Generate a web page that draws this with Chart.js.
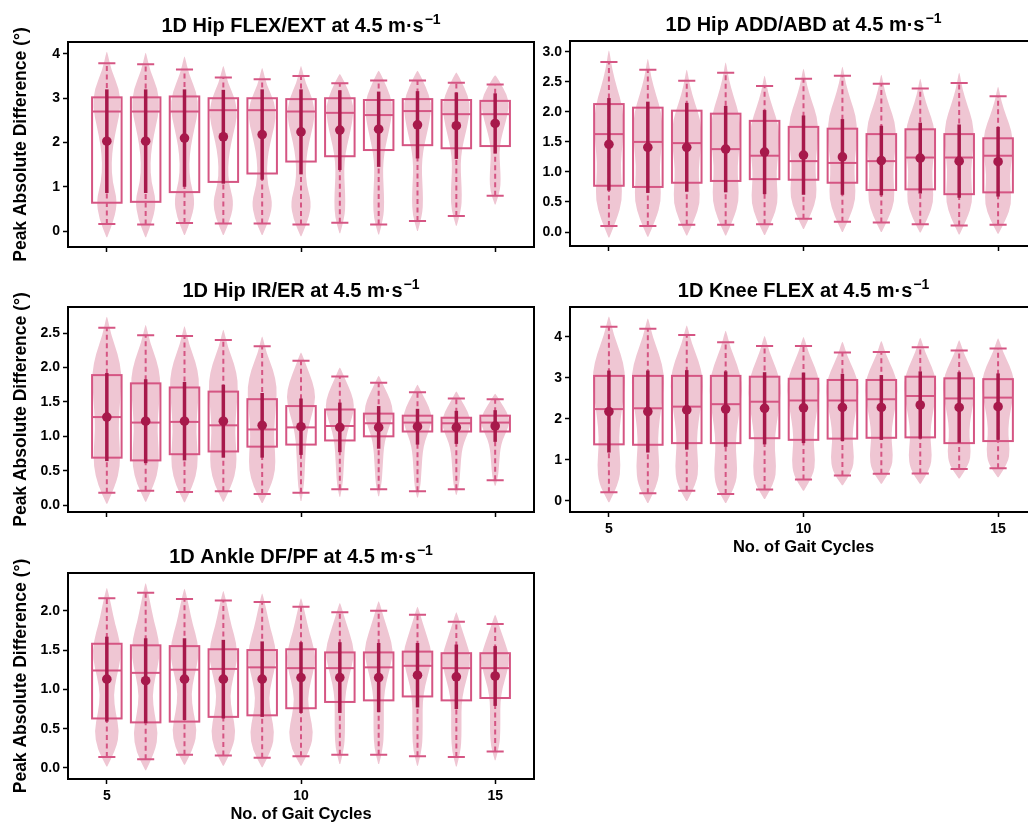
<!DOCTYPE html>
<html lang="en">
  <head>
    <meta charset="UTF-8" />
    <title>Gait cycles violins</title>
    <script src="https://cdn.jsdelivr.net/npm/chart.js"></script>
    <style>
      html, body { margin: 0; padding: 0; background: #fff; overflow: hidden; }
      body { width: 1028px; height: 822px; position: relative; }
      canvas { position: absolute; }
    </style>
  </head>
  <body>
    <canvas id="c1"></canvas>
    <canvas id="c2"></canvas>
    <canvas id="c3"></canvas>
    <canvas id="c4"></canvas>
    <canvas id="c5"></canvas>

    <script>
      // ---- data ----
      const cycles = [5, 6, 7, 8, 9, 10, 11, 12, 13, 14, 15];
      const xTickValues = [5, 10, 15];

      // 1D Hip FLEX/EXT
      const flexMean = [2.03, 2.03, 2.10, 2.13, 2.18, 2.24, 2.28, 2.30, 2.40, 2.38, 2.43];
      const flexSd = [1.17, 1.17, 1.10, 1.06, 1.02, 0.96, 0.90, 0.85, 0.76, 0.75, 0.68];
      const flexCapHi = [3.79, 3.77, 3.65, 3.47, 3.43, 3.50, 3.34, 3.40, 3.40, 3.35, 3.31];
      const flexCapLo = [0.16, 0.15, 0.18, 0.17, 0.17, 0.15, 0.19, 0.15, 0.23, 0.34, 0.80];
      const flexQ3 = [3.02, 3.02, 3.04, 3.00, 3.00, 2.98, 3.00, 2.96, 2.98, 2.96, 2.94];
      const flexMedian = [2.70, 2.70, 2.70, 2.73, 2.73, 2.70, 2.67, 2.62, 2.71, 2.64, 2.64];
      const flexQ1 = [0.64, 0.66, 0.88, 1.11, 1.30, 1.57, 1.69, 1.83, 1.94, 1.87, 1.92];
      const flexVioHi = [4.05, 4.03, 3.94, 3.73, 3.68, 3.73, 3.55, 3.62, 3.62, 3.58, 3.52];
      const flexVioLo = [-0.14, -0.14, -0.09, -0.09, -0.09, -0.12, -0.05, -0.08, 0.0, 0.12, 0.6];
      const flexShapes = [
        [0.03, 0.55, 0.75, 0.4, 0.33, 0.45, 0.72, 1.0, 0.88, 0.32, 0.03],
        [0.03, 0.35, 0.4, 0.35, 0.3, 0.4, 0.65, 0.9, 1.0, 0.6, 0.04],
      ];
      const flexShapeOf = [0, 0, 0, 0, 0, 0, 1, 1, 1, 1, 1];
      const flexTicks = [0, 1, 2, 3, 4];

      // 1D Hip ADD/ABD
      const addMean = [1.46, 1.41, 1.41, 1.38, 1.33, 1.28, 1.25, 1.19, 1.23, 1.18, 1.17];
      const addSd = [0.77, 0.76, 0.74, 0.72, 0.70, 0.66, 0.63, 0.58, 0.59, 0.61, 0.58];
      const addCapHi = [2.83, 2.70, 2.52, 2.65, 2.43, 2.55, 2.60, 2.47, 2.39, 2.48, 2.26];
      const addCapLo = [0.10, 0.10, 0.12, 0.12, 0.13, 0.22, 0.17, 0.16, 0.13, 0.11, 0.12];
      const addQ3 = [2.13, 2.07, 2.02, 1.97, 1.85, 1.75, 1.72, 1.63, 1.71, 1.63, 1.56];
      const addMedian = [1.63, 1.50, 1.48, 1.38, 1.27, 1.18, 1.15, 1.18, 1.24, 1.24, 1.27];
      const addQ1 = [0.77, 0.75, 0.82, 0.85, 0.88, 0.87, 0.82, 0.70, 0.71, 0.63, 0.66];
      const addVioHi = [3.02, 2.88, 2.70, 2.82, 2.60, 2.72, 2.75, 2.62, 2.55, 2.65, 2.42];
      const addVioLo = [-0.09, -0.08, -0.06, -0.06, -0.05, 0.05, 0.0, 0.0, -0.01, -0.04, -0.03];
      const addShapes = [[0.03, 0.55, 0.9, 0.85, 0.8, 0.92, 1.0, 0.92, 0.55, 0.22, 0.03]];
      const addShapeOf = [0, 0, 0, 0, 0, 0, 0, 0, 0, 0, 0];
      const addTicks = [0, 0.5, 1, 1.5, 2, 2.5, 3];

      // 1D Hip IR/ER
      const irMean = [1.28, 1.22, 1.22, 1.22, 1.16, 1.14, 1.13, 1.13, 1.14, 1.13, 1.15];
      const irSd = [0.64, 0.61, 0.57, 0.53, 0.47, 0.41, 0.36, 0.31, 0.26, 0.24, 0.23];
      const irCapHi = [2.58, 2.47, 2.46, 2.40, 2.31, 2.10, 1.87, 1.78, 1.64, 1.55, 1.54];
      const irCapLo = [0.18, 0.21, 0.19, 0.20, 0.16, 0.18, 0.23, 0.23, 0.20, 0.23, 0.36];
      const irQ3 = [1.89, 1.77, 1.71, 1.65, 1.54, 1.44, 1.39, 1.33, 1.30, 1.27, 1.30];
      const irMedian = [1.28, 1.20, 1.21, 1.16, 1.10, 1.13, 1.15, 1.19, 1.20, 1.19, 1.20];
      const irQ1 = [0.69, 0.65, 0.74, 0.78, 0.85, 0.88, 0.94, 1.00, 1.07, 1.07, 1.07];
      const irVioHi = [2.74, 2.62, 2.60, 2.55, 2.45, 2.22, 2.00, 1.88, 1.75, 1.65, 1.62];
      const irVioLo = [0.02, 0.05, 0.04, 0.05, 0.03, 0.06, 0.12, 0.13, 0.11, 0.15, 0.28];
      const irShapes = [
        [0.03, 0.6, 0.9, 0.88, 0.8, 0.85, 0.95, 1.0, 0.75, 0.3, 0.03],
        [0.03, 0.2, 0.25, 0.3, 0.35, 0.5, 0.8, 1.0, 0.8, 0.4, 0.03],
      ];
      const irShapeOf = [0, 0, 0, 0, 0, 1, 1, 1, 1, 1, 1];
      const irTicks = [0, 0.5, 1, 1.5, 2, 2.5];

      // 1D Knee FLEX
      const kneeMean = [2.18, 2.18, 2.22, 2.24, 2.26, 2.27, 2.28, 2.28, 2.34, 2.28, 2.30];
      const kneeSd = [1.0, 1.0, 0.97, 0.92, 0.88, 0.86, 0.82, 0.79, 0.82, 0.86, 0.81];
      const kneeCapHi = [4.25, 4.20, 4.05, 3.87, 3.78, 3.78, 3.62, 3.63, 3.75, 3.67, 3.72];
      const kneeCapLo = [0.21, 0.19, 0.25, 0.17, 0.28, 0.52, 0.62, 0.66, 0.67, 0.78, 0.80];
      const kneeQ3 = [3.05, 3.05, 3.05, 3.05, 3.03, 2.98, 2.95, 2.95, 3.03, 2.99, 2.97];
      const kneeMedian = [2.24, 2.26, 2.30, 2.36, 2.42, 2.45, 2.45, 2.48, 2.56, 2.50, 2.52];
      const kneeQ1 = [1.38, 1.37, 1.41, 1.41, 1.53, 1.49, 1.52, 1.54, 1.55, 1.41, 1.46];
      const kneeVioHi = [4.50, 4.45, 4.28, 4.15, 4.02, 4.00, 3.88, 3.90, 3.98, 3.92, 3.97];
      const kneeVioLo = [-0.03, -0.05, 0.0, -0.05, 0.05, 0.25, 0.38, 0.42, 0.42, 0.55, 0.58];
      const kneeShapes = [[0.03, 0.62, 0.72, 0.62, 0.65, 0.8, 0.95, 1.0, 0.72, 0.3, 0.03]];
      const kneeShapeOf = [0, 0, 0, 0, 0, 0, 0, 0, 0, 0, 0];
      const kneeTicks = [0, 1, 2, 3, 4];

      // 1D Ankle DF/PF
      const ankleMean = [1.13, 1.11, 1.13, 1.13, 1.13, 1.15, 1.15, 1.15, 1.18, 1.16, 1.17];
      const ankleSd = [0.54, 0.54, 0.52, 0.50, 0.48, 0.45, 0.45, 0.44, 0.41, 0.41, 0.38];
      const ankleCapHi = [2.16, 2.23, 2.15, 2.13, 2.11, 2.05, 1.98, 2.00, 1.95, 1.86, 1.83];
      const ankleCapLo = [0.14, 0.11, 0.17, 0.16, 0.13, 0.15, 0.17, 0.17, 0.15, 0.14, 0.21];
      const ankleQ3 = [1.58, 1.56, 1.55, 1.51, 1.50, 1.51, 1.47, 1.47, 1.48, 1.46, 1.46];
      const ankleMedian = [1.24, 1.21, 1.25, 1.26, 1.28, 1.27, 1.27, 1.28, 1.30, 1.27, 1.27];
      const ankleQ1 = [0.63, 0.58, 0.59, 0.65, 0.67, 0.76, 0.84, 0.86, 0.91, 0.86, 0.89];
      const ankleVioHi = [2.29, 2.35, 2.28, 2.25, 2.22, 2.16, 2.10, 2.12, 2.05, 1.98, 1.95];
      const ankleVioLo = [0.02, -0.03, 0.04, 0.03, 0.01, 0.03, 0.05, 0.05, 0.03, 0.02, 0.10];
      const ankleShapes = [
        [0.03, 0.65, 0.85, 0.6, 0.45, 0.65, 0.95, 0.9, 0.55, 0.3, 0.03],
        [0.03, 0.3, 0.35, 0.35, 0.35, 0.5, 0.8, 1.0, 0.7, 0.35, 0.03],
      ];
      const ankleShapeOf = [0, 0, 0, 0, 0, 0, 1, 1, 1, 1, 1];
      const ankleTicks = [0, 0.5, 1, 1.5, 2];

      // ---- styling ----
      const FONT = '"Liberation Sans", Arial, sans-serif';
      const VIOLIN = "#efc6d3";
      const PINK = "#d55583";
      const DARK = "#a7194b";
      const BOX_HALF = 0.38;
      const CAP_HALF = 0.22;

      function smoothPath(ctx, pts) {
        ctx.moveTo(pts[0][0], pts[0][1]);
        for (let i = 1; i < pts.length - 1; i++) {
          const mx = (pts[i][0] + pts[i + 1][0]) / 2;
          const my = (pts[i][1] + pts[i + 1][1]) / 2;
          ctx.quadraticCurveTo(pts[i][0], pts[i][1], mx, my);
        }
        const last = pts[pts.length - 1];
        ctx.lineTo(last[0], last[1]);
      }

      const violinPlugin = {
        id: "violins",
        beforeDatasetsDraw(chart) {
          const d = chart.options.plugins.violins;
          const { ctx } = chart;
          const xs = chart.scales.x;
          const ys = chart.scales.y;
          const px = (v) => xs.getPixelForValue(v);
          const py = (v) => ys.getPixelForValue(v);
          const unit = px(1) - px(0);
          ctx.save();
          cycles.forEach((c, i) => {
            const xc = px(c);
            // violin body
            const shape = d.shapes[d.shapeOf[i]];
            const n = shape.length;
            const right = [];
            const left = [];
            for (let k = 0; k < n; k++) {
              const v = d.vioLo[i] + (k / (n - 1)) * (d.vioHi[i] - d.vioLo[i]);
              const hw = shape[k] * d.vioHalf * unit;
              right.push([xc + hw, py(v)]);
              left.unshift([xc - hw, py(v)]);
            }
            ctx.beginPath();
            smoothPath(ctx, right.concat(left));
            ctx.closePath();
            ctx.fillStyle = VIOLIN;
            ctx.fill();

            // whisker (dashed) and caps
            ctx.strokeStyle = PINK;
            ctx.lineWidth = 2;
            ctx.setLineDash([5, 3.5]);
            ctx.beginPath();
            ctx.moveTo(xc, py(d.capLo[i]));
            ctx.lineTo(xc, py(d.capHi[i]));
            ctx.stroke();
            ctx.setLineDash([]);
            ctx.beginPath();
            [d.capLo[i], d.capHi[i]].forEach((v) => {
              ctx.moveTo(xc - CAP_HALF * unit, py(v));
              ctx.lineTo(xc + CAP_HALF * unit, py(v));
            });
            ctx.stroke();

            // box + median
            const bl = xc - BOX_HALF * unit;
            const bw = 2 * BOX_HALF * unit;
            ctx.strokeRect(bl, py(d.q3[i]), bw, py(d.q1[i]) - py(d.q3[i]));
            ctx.beginPath();
            ctx.moveTo(bl, py(d.median[i]));
            ctx.lineTo(bl + bw, py(d.median[i]));
            ctx.stroke();

            // mean +/- sd
            ctx.strokeStyle = DARK;
            ctx.lineWidth = 3.5;
            ctx.beginPath();
            ctx.moveTo(xc, py(d.mean[i] - d.sd[i]));
            ctx.lineTo(xc, py(d.mean[i] + d.sd[i]));
            ctx.stroke();
          });
          ctx.restore();
        },
        afterDraw(chart) {
          const d = chart.options.plugins.violins;
          const { ctx, chartArea: a } = chart;
          ctx.save();
          ctx.strokeStyle = "#000";
          ctx.lineWidth = 2;
          ctx.strokeRect(a.left, a.top, a.right - a.left, a.bottom - a.top);
          // title with superscript
          const main = d.title;
          const sup = "\u22121";
          ctx.fillStyle = "#000";
          ctx.font = "bold 20px " + FONT;
          const w1 = ctx.measureText(main).width;
          ctx.font = "bold 14px " + FONT;
          const w2 = ctx.measureText(sup).width;
          const x0 = (a.left + a.right) / 2 - (w1 + w2 + 1) / 2;
          const base = a.top - 10;
          ctx.textBaseline = "alphabetic";
          ctx.textAlign = "left";
          ctx.font = "bold 20px " + FONT;
          ctx.fillText(main, x0, base);
          ctx.font = "bold 14px " + FONT;
          ctx.fillText(sup, x0 + w1 + 1, base - 8);
          ctx.restore();
        },
      };

      function makePanel(p) {
        const canvas = document.getElementById(p.id);
        const leftCol = p.col === 0;
        const cLeft = leftCol ? 0 : 520;
        const cWidth = leftCol ? 540 : 525;
        const yW = leftCol ? 68 : 50;
        const padR = leftCol ? 6 : 8;
        const cTop = Math.max(0, p.plotTop - 42);
        const padT = p.plotTop - cTop;
        const cHeight = padT + (p.plotBottom - p.plotTop) + 45;
        canvas.width = cWidth;
        canvas.height = cHeight;
        canvas.style.left = cLeft + "px";
        canvas.style.top = cTop + "px";
        canvas.style.width = cWidth + "px";
        canvas.style.height = cHeight + "px";

        const tickFont = { family: FONT, size: 14, weight: "bold" };
        return new Chart(canvas, {
          type: "scatter",
          data: {
            datasets: [
              {
                data: cycles.map((c, i) => ({ x: c, y: p.mean[i] })),
                pointRadius: 4.8,
                pointBackgroundColor: DARK,
                pointBorderWidth: 0,
              },
            ],
          },
          options: {
            responsive: false,
            animation: false,
            events: [],
            layout: { padding: { left: 0, right: padR, top: padT, bottom: 0 } },
            plugins: {
              legend: { display: false },
              tooltip: { enabled: false },
              violins: p,
            },
            scales: {
              x: {
                type: "linear",
                min: 4,
                max: 16,
                afterBuildTicks: (s) => {
                  s.ticks = xTickValues.map((v) => ({ value: v }));
                },
                afterFit: (s) => {
                  s.height = 45;
                },
                ticks: {
                  autoSkip: false,
                  maxRotation: 0,
                  padding: 4,
                  color: "#000",
                  font: tickFont,
                  callback: (v) => (p.showX ? String(v) : ""),
                },
                grid: {
                  drawOnChartArea: false,
                  tickLength: 5,
                  tickColor: "#000",
                  tickWidth: 1.5,
                },
                border: { display: false },
                title: {
                  display: p.showX,
                  text: "No. of Gait Cycles",
                  color: "#000",
                  font: { family: FONT, size: 16.5, weight: "bold" },
                  padding: { top: 0, bottom: 0 },
                },
              },
              y: {
                min: p.yMin,
                max: p.yMax,
                afterBuildTicks: (s) => {
                  s.ticks = p.ticks.map((v) => ({ value: v }));
                },
                afterFit: (s) => {
                  s.width = yW;
                },
                ticks: {
                  padding: 3,
                  color: "#000",
                  font: tickFont,
                  callback: (v) => v.toFixed(p.dec),
                },
                grid: {
                  drawOnChartArea: false,
                  tickLength: 5,
                  tickColor: "#000",
                  tickWidth: 1.5,
                },
                border: { display: false },
                title: {
                  display: leftCol,
                  text: "Peak Absolute Difference (\u00b0)",
                  color: "#000",
                  font: { family: FONT, size: 17.5, weight: "bold" },
                  padding: { top: 11, bottom: 0 },
                },
              },
            },
          },
          plugins: [violinPlugin],
        });
      }

      makePanel({
        id: "c1", col: 0, plotTop: 42, plotBottom: 247, yMin: -0.36, yMax: 4.27,
        ticks: flexTicks, dec: 0, showX: false, title: "1D Hip FLEX/EXT at 4.5 m\u00b7s",
        mean: flexMean, sd: flexSd, capHi: flexCapHi, capLo: flexCapLo, q3: flexQ3,
        median: flexMedian, q1: flexQ1, vioHi: flexVioHi, vioLo: flexVioLo,
        shapes: flexShapes, shapeOf: flexShapeOf, vioHalf: 0.36,
      });
      makePanel({
        id: "c2", col: 1, plotTop: 41, plotBottom: 246, yMin: -0.233, yMax: 3.18,
        ticks: addTicks, dec: 1, showX: false, title: "1D Hip ADD/ABD at 4.5 m\u00b7s",
        mean: addMean, sd: addSd, capHi: addCapHi, capLo: addCapLo, q3: addQ3,
        median: addMedian, q1: addQ1, vioHi: addVioHi, vioLo: addVioLo,
        shapes: addShapes, shapeOf: addShapeOf, vioHalf: 0.38,
      });
      makePanel({
        id: "c3", col: 0, plotTop: 307, plotBottom: 512, yMin: -0.1, yMax: 2.88,
        ticks: irTicks, dec: 1, showX: false, title: "1D Hip IR/ER at 4.5 m\u00b7s",
        mean: irMean, sd: irSd, capHi: irCapHi, capLo: irCapLo, q3: irQ3,
        median: irMedian, q1: irQ1, vioHi: irVioHi, vioLo: irVioLo,
        shapes: irShapes, shapeOf: irShapeOf, vioHalf: 0.38,
      });
      makePanel({
        id: "c4", col: 1, plotTop: 307, plotBottom: 512, yMin: -0.27, yMax: 4.73,
        ticks: kneeTicks, dec: 0, showX: true, title: "1D Knee FLEX at 4.5 m\u00b7s",
        mean: kneeMean, sd: kneeSd, capHi: kneeCapHi, capLo: kneeCapLo, q3: kneeQ3,
        median: kneeMedian, q1: kneeQ1, vioHi: kneeVioHi, vioLo: kneeVioLo,
        shapes: kneeShapes, shapeOf: kneeShapeOf, vioHalf: 0.42,
      });
      makePanel({
        id: "c5", col: 0, plotTop: 573, plotBottom: 779, yMin: -0.14, yMax: 2.48,
        ticks: ankleTicks, dec: 1, showX: true, title: "1D Ankle DF/PF at 4.5 m\u00b7s",
        mean: ankleMean, sd: ankleSd, capHi: ankleCapHi, capLo: ankleCapLo, q3: ankleQ3,
        median: ankleMedian, q1: ankleQ1, vioHi: ankleVioHi, vioLo: ankleVioLo,
        shapes: ankleShapes, shapeOf: ankleShapeOf, vioHalf: 0.38,
      });
    </script>
  </body>
</html>
